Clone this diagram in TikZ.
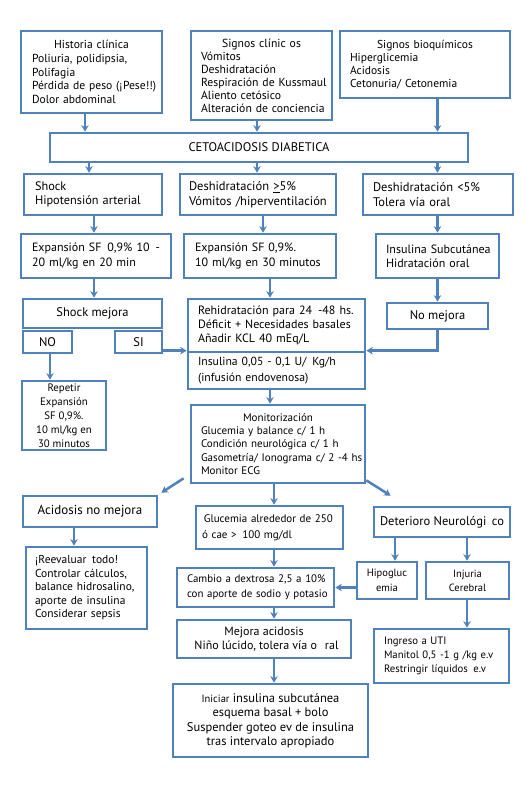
\documentclass[tikz,border=0pt]{standalone}
\usepackage{fontspec}
\setmainfont{PT Sans}
\usetikzlibrary{arrows.meta,calc}
\definecolor{bb}{RGB}{79,129,189}
\newcommand{\fsz}[2]{\fontsize{#1}{#2}\selectfont}
\newcommand{\LLn}[1]{\makebox[\linewidth][l]{#1}}
\newcommand{\CCt}[1]{\makebox[\linewidth][c]{#1}}
\begin{document}
\begin{tikzpicture}[x=1pt,y=-1pt,
  box/.style={draw=bb, line width=2.7pt, fill=white, inner sep=0pt, rectangle, text=black},
  arr/.style={draw=bb, line width=2.5pt, -{Stealth[length=6.5pt,width=7.5pt]}}]
\fill[white] (0,0) rectangle (530,798);
\useasboundingbox (0,0) rectangle (530,798);
% column coordinates
\coordinate (c85) at (85,0);
\coordinate (c257) at (257,0);
\coordinate (c437) at (437.5,0);
\coordinate (c89) at (89,0);
\coordinate (c94) at (94,0);
\coordinate (c263) at (263,0);
\coordinate (c270) at (270,0);
\coordinate (c50) at (50,0);
\coordinate (c74) at (74,0);
\coordinate (c274) at (274,0);
\coordinate (c395) at (395,0);
\coordinate (c467) at (467,0);

% row 1
\node[box, minimum width=141pt, minimum height=82pt, text width=119pt, align=left, font=\fsz{11.6}{13.7}] (hist) at (91.5,72)
 {\CCt{Historia clínica}\\Poliuria, polidipsia,\\Polifagia\\\LLn{Pérdida de peso (¡Pese!!)}\\Dolor abdominal};
\node[box, minimum width=141pt, minimum height=89pt, text width=121pt, align=left, font=\fsz{11.7}{13}] (sclin) at (261.5,75.5)
 {\CCt{Signos clínic os}\\Vómitos\\Deshidratación\\\LLn{Respiración de Kussmaul}\\Aliento cetósico\\\LLn{Alteración de conciencia}};
\node[box, minimum width=170pt, minimum height=67pt, text width=150pt, align=left, font=\fsz{11.5}{13}] (sbio) at (425,64.5)
 {\CCt{Signos bioquímicos}\\Hiperglicemia\\Acidosis\\Cetonuria/ Cetonemia};

\node[box, minimum width=418pt, minimum height=29pt, font=\fsz{12.5}{14}] (ceto) at (259,147.5) {CETOACIDOSIS DIABETICA};

% row 2
\node[box, minimum width=138pt, minimum height=41pt, text width=116pt, align=left, font=\fsz{12.3}{14.5}] (shock) at (93,194.5)
 {Shock\\\LLn{Hipotensión arterial}};
\node[box, minimum width=156pt, minimum height=41pt, text width=138pt, align=left, font=\fsz{12.5}{14.5}] (desh) at (258,194.5)
 {\LLn{Deshidratación \underline{>}5\%}\\\LLn{Vómitos /hiperventilación}};
\node[box, minimum width=150pt, minimum height=41pt, text width=130pt, align=left, font=\fsz{12.5}{14.5}] (desh2) at (438,194.5)
 {\LLn{Deshidratación <5\%}\\Tolera vía oral};

% row 3
\node[box, minimum width=150pt, minimum height=44pt, text width=128pt, align=left, font=\fsz{12}{14.5}] (exp1) at (96,256)
 {\LLn{Expansión SF\, 0,9\% 10\, -}\\\LLn{20 ml/kg en 20 min}};
\node[box, minimum width=152pt, minimum height=44pt, text width=130pt, align=left, font=\fsz{12}{14.5}] (exp2) at (260,256)
 {\LLn{Expansión SF 0,9\%.}\\\LLn{10 ml/kg en 30 minutos}};
\node[box, minimum width=123pt, minimum height=44pt, text width=103pt, align=left, font=\fsz{12}{14.5}] (insub) at (437.5,256)
 {\LLn{Insulina Subcutánea}\\\LLn{Hidratación oral}};

% row 4
\node[box, minimum width=139pt, minimum height=29pt, font=\fsz{12.5}{14}] (shockm) at (92.5,313.5) {Shock mejora};
\node[box, minimum width=49pt, minimum height=22pt, font=\fsz{12.5}{14}] (no) at (47.5,342) {NO};
\node[box, minimum width=47pt, minimum height=22pt, font=\fsz{12.5}{14}] (si) at (138.5,342) {SI};
\node[box, minimum width=177pt, minimum height=53pt, text width=157pt, align=left, font=\fsz{12}{14}] (rehid) at (276.5,325.5)
 {\LLn{Rehidratación para 24\, -48 hs.}\\\LLn{Déficit + Necesidades basales}\\\LLn{Añadir KCL 40 mEq/L}};
\node[box, minimum width=177pt, minimum height=37pt, text width=157pt, align=left, font=\fsz{11.7}{16}] (insiv) at (276.5,370.5)
 {\LLn{Insulina 0,05 - 0,1 U/\, Kg/h}\\\LLn{(infusión endovenosa)}};
\node[box, minimum width=101pt, minimum height=26pt, font=\fsz{12.5}{14}] (nomej) at (437.5,316) {No mejora};

\node[box, minimum width=84pt, minimum height=69pt, align=center, font=\fsz{10.8}{14}] (rep) at (64,415.5)
 {Repetir\\Expansión\\SF 0,9\%.\\10 ml/kg en\\30 minutos};

% monitor
\node[box, minimum width=174pt, minimum height=78pt, text width=154pt, align=left, font=\fsz{11}{13.4}] (mon) at (278,444)
 {\CCt{Monitorización}\\\LLn{Glucemia y balance c/ 1 h}\\\LLn{Condición neurológica c/ 1 h}\\\LLn{Gasometría/ Ionograma c/ 2 -4 hs}\\Monitor ECG};

\node[box, minimum width=134pt, minimum height=31pt, font=\fsz{13}{14}] (acid) at (90,511.5) {Acidosis no mejora};
\node[box, minimum width=121pt, minimum height=82pt, text width=103pt, align=left, font=\fsz{11.5}{13.5}] (reev) at (86.5,588)
 {\LLn{¡Reevaluar\, todo!}\\\LLn{Controlar cálculos,}\\\LLn{balance hidrosalino,}\\\LLn{aporte de insulina}\\\LLn{Considerar sepsis}};

\node[box, minimum width=147pt, minimum height=43pt, text width=135pt, align=left, font=\fsz{11}{16.5}] (gluc) at (269.5,527.5)
 {\LLn{\,Glucemia alrededor de 250}\\\LLn{ó cae >\, 100 mg/dl}};
\node[box, minimum width=157pt, minimum height=39pt, text width=137pt, align=left, font=\fsz{10.9}{15}] (dex) at (255.5,587.5)
 {\LLn{Cambio a dextrosa 2,5 a 10\%}\\\LLn{con aporte de sodio y potasio}};
\node[box, minimum width=174pt, minimum height=38pt, align=center, font=\fsz{12}{14.5}] (mejac) at (264,639)
 {Mejora acidosis\\\hspace{5pt}Niño lúcido, tolera vía o\hspace{8pt}ral};
\node[box, minimum width=195pt, minimum height=73pt, align=center, font=\fsz{12.5}{14.5}] (inic) at (270.5,720.5)
 {{\fsz{10.5}{14.5}Iniciar} insulina subcutánea\\esquema basal + bolo\\Suspender goteo ev de insulina\\tras intervalo apropiado};

\node[box, minimum width=136pt, minimum height=30pt, font=\fsz{12.5}{14}] (det) at (442,522) {Deterioro Neurológi\, co};
\node[box, minimum width=60pt, minimum height=37pt, align=center, font=\fsz{10.5}{15}] (hipo) at (387,580.5) {Hipogluc\\emia};
\node[box, minimum width=83pt, minimum height=37pt, align=center, font=\fsz{10.5}{14}] (inj) at (467.5,580.5) {Injuria\\Cerebral};
\node[box, minimum width=135pt, minimum height=54pt, text width=115pt, align=left, font=\fsz{10.7}{14}] (uti) at (441.5,656)
 {\LLn{Ingreso a UTI}\\\LLn{Manitol 0,5 -1 g /kg e.v}\\\LLn{Restringir líquidos\, e.v}};

% connectors
\draw[arr] (c85 |- hist.south) -- (c85 |- ceto.north);
\draw[arr] (c257 |- sclin.south) -- (c257 |- ceto.north);
\draw[arr] (c437 |- sbio.south) -- (c437 |- ceto.north);
\draw[arr] (c89 |- ceto.south) -- (c89 |- shock.north);
\draw[arr] (c257 |- ceto.south) -- (c257 |- desh.north);
\draw[arr] (c437 |- ceto.south) -- (c437 |- desh2.north);
\draw[arr] (c94 |- shock.south) -- (c94 |- exp1.north);
\draw[arr] (c263 |- desh.south) -- (c263 |- exp2.north);
\draw[arr] (c437 |- desh2.south) -- (c437 |- insub.north);
\draw[arr] (c94 |- exp1.south) -- (c94 |- shockm.north);
\draw[arr] (c270 |- exp2.south) -- (c270 |- rehid.north);
\draw[arr] (c437 |- insub.south) -- (c437 |- nomej.north);
\draw[arr] (c50 |- no.south) -- (c50 |- rep.north);
\draw[arr] (si.east |- insiv.north west) -- (insiv.north west);
\draw[arr] (nomej.south) |- (insiv.north east);
\draw[arr] (c270 |- insiv.south) -- (c270 |- mon.north);
\draw[arr] ([xshift=-6pt,yshift=6pt]mon.south west) -- ([xshift=3pt,yshift=2pt]acid.north east);
\draw[arr] ([yshift=4pt]mon.south east) -- ([xshift=18pt,yshift=10pt]det.north west);
\draw[arr] (c274 |- mon.south) -- (c274 |- gluc.north);
\draw[arr] (c274 |- gluc.south) -- (c274 |- dex.north);
\draw[arr] (c274 |- dex.south) -- (c274 |- mejac.north);
\draw[arr] (c274 |- mejac.south) -- (c274 |- inic.north);
\draw[arr] (c74 |- acid.south) -- (c74 |- reev.north);
\draw[arr] (c395 |- det.south) -- (c395 |- hipo.north);
\draw[arr] (c467 |- det.south) -- (c467 |- inj.north);
\draw[arr] (hipo.west |- dex.east) -- (dex.east);
\draw[arr] (c467 |- inj.south) -- (c467 |- uti.north);
\end{tikzpicture}
\end{document}
